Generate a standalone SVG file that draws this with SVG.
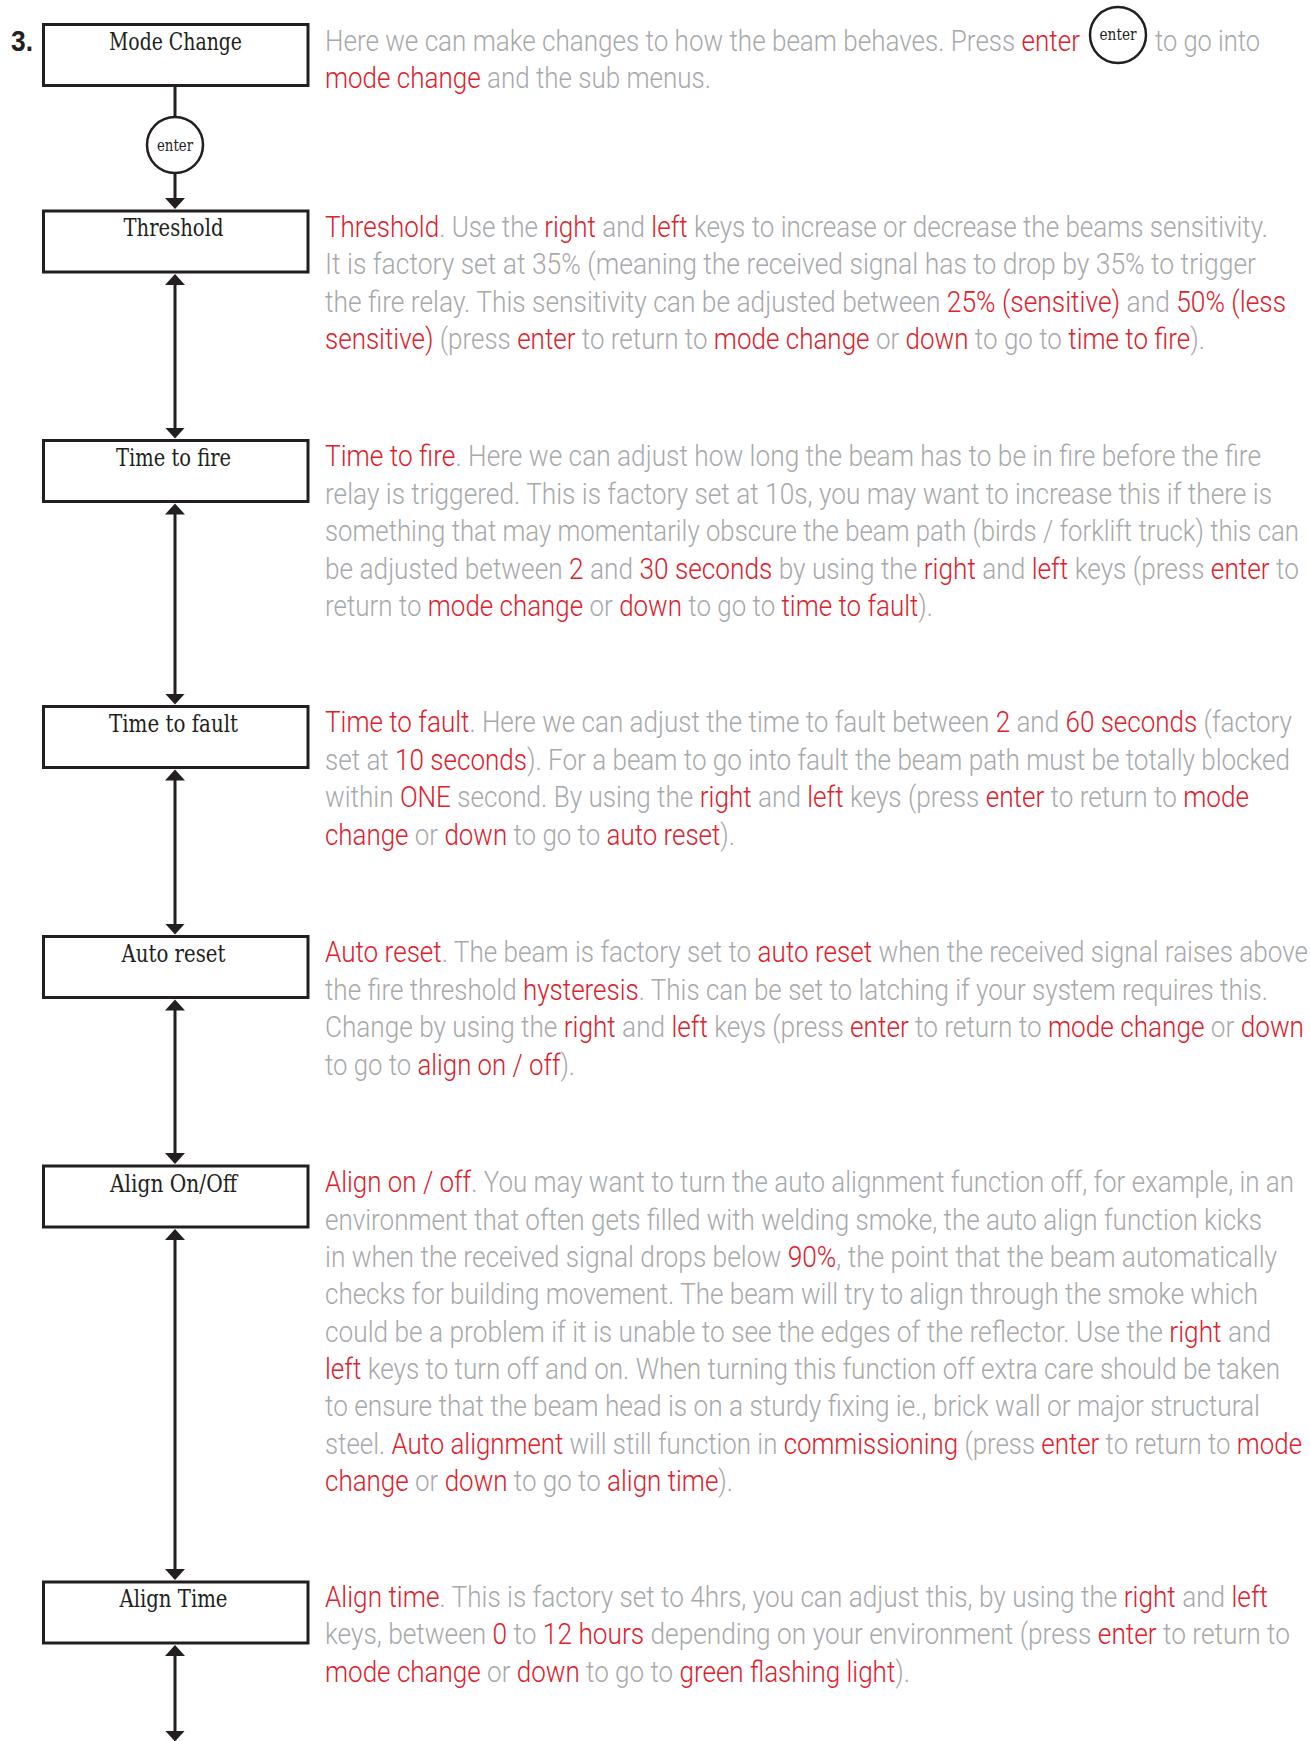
<svg xmlns="http://www.w3.org/2000/svg" width="1310" height="1741" viewBox="0 0 1310 1741">
<style>
.box{fill:#fff;stroke:#231f20;stroke-width:3}
.lbl{font-family:"DejaVu Serif","Liberation Serif",serif;font-size:25px;fill:#231f20;text-anchor:middle}
.ent{font-family:"DejaVu Serif","Liberation Serif",serif;font-size:17px;fill:#231f20;text-anchor:middle}
.circ{fill:#fff;stroke:#231f20;stroke-width:2.5}
.body{font-family:Roboto,"Liberation Sans",Arial,sans-serif;font-weight:300;font-size:30px;fill:#a7a9ac}
.r{fill:#e0202b}
.conn{stroke:#231f20;stroke-width:3;fill:none}
.num{font-family:"Liberation Sans",Arial,sans-serif;font-weight:bold;font-size:30px;fill:#231f20}
</style>
<defs>
<marker id="ah" markerUnits="userSpaceOnUse" markerWidth="12" markerHeight="22" viewBox="0 0 12 22" refX="0.5" refY="11" orient="auto-start-reverse">
<path d="M0,1 L11,11 L0,21 z" fill="#231f20"/>
</marker>
</defs>
<rect width="1310" height="1741" fill="#fff"/>

<text class="num" x="11" y="51" textLength="22" lengthAdjust="spacingAndGlyphs">3.</text>

<g id="connectors">
<line class="conn" x1="175" y1="86" x2="175" y2="117"/>
<line class="conn" x1="175" y1="173" x2="175" y2="198.5" marker-end="url(#ah)"/>
<line class="conn" x1="175" y1="284.5" x2="175" y2="428" marker-start="url(#ah)" marker-end="url(#ah)"/>
<line class="conn" x1="175" y1="514" x2="175" y2="694" marker-start="url(#ah)" marker-end="url(#ah)"/>
<line class="conn" x1="175" y1="780" x2="175" y2="924" marker-start="url(#ah)" marker-end="url(#ah)"/>
<line class="conn" x1="175" y1="1010" x2="175" y2="1153.5" marker-start="url(#ah)" marker-end="url(#ah)"/>
<line class="conn" x1="175" y1="1239.5" x2="175" y2="1569.5" marker-start="url(#ah)" marker-end="url(#ah)"/>
<line class="conn" x1="175" y1="1655.5" x2="175" y2="1731" marker-start="url(#ah)" marker-end="url(#ah)"/>
</g>

<g id="node-mode-change">
<rect class="box" x="43.5" y="24.5" width="264.5" height="61"/>
<text class="lbl" x="175.5" y="50" textLength="133" lengthAdjust="spacingAndGlyphs">Mode Change</text>
</g>
<g id="node-enter">
<circle class="circ" cx="175" cy="145" r="28"/>
<text class="ent" x="175" y="150.5" textLength="36" lengthAdjust="spacingAndGlyphs">enter</text>
</g>
<g id="node-threshold">
<rect class="box" x="43.5" y="211" width="264.5" height="61"/>
<text class="lbl" x="173.5" y="236" textLength="100" lengthAdjust="spacingAndGlyphs">Threshold</text>
</g>
<g id="node-time-to-fire">
<rect class="box" x="43.5" y="440.5" width="264.5" height="61"/>
<text class="lbl" x="173.5" y="465.5" textLength="115" lengthAdjust="spacingAndGlyphs">Time to fire</text>
</g>
<g id="node-time-to-fault">
<rect class="box" x="43.5" y="706.5" width="264.5" height="61"/>
<text class="lbl" x="173.5" y="731.5" textLength="129" lengthAdjust="spacingAndGlyphs">Time to fault</text>
</g>
<g id="node-auto-reset">
<rect class="box" x="43.5" y="936.5" width="264.5" height="61"/>
<text class="lbl" x="173.5" y="961.5" textLength="104" lengthAdjust="spacingAndGlyphs">Auto reset</text>
</g>
<g id="node-align-on-off">
<rect class="box" x="43.5" y="1166" width="264.5" height="61"/>
<text class="lbl" x="173.5" y="1191.5" textLength="127" lengthAdjust="spacingAndGlyphs">Align On/Off</text>
</g>
<g id="node-align-time">
<rect class="box" x="43.5" y="1582" width="264.5" height="61"/>
<text class="lbl" x="173.5" y="1607" textLength="108" lengthAdjust="spacingAndGlyphs">Align Time</text>
</g>

<g id="text-intro">
<text class="body" transform="matrix(0.87 0 0 1 325 0)" x="0" y="51" textLength="867.8" lengthAdjust="spacingAndGlyphs">Here we can make changes to how the beam behaves. Press <tspan class="r">enter</tspan></text>
<circle class="circ" cx="1118" cy="35" r="28"/>
<text class="ent" x="1118" y="40" textLength="37" lengthAdjust="spacingAndGlyphs">enter</text>
<text class="body" transform="matrix(0.87 0 0 1 1155 0)" x="0" y="51" textLength="120.7" lengthAdjust="spacingAndGlyphs">to go into</text>
<text class="body" transform="matrix(0.87 0 0 1 325 0)" x="0" y="88.5" textLength="443.7" lengthAdjust="spacingAndGlyphs"><tspan class="r">mode change</tspan> and the sub menus.</text>
</g>

<g id="text-threshold" transform="matrix(0.87 0 0 1 325 0)">
<text class="body" x="0" y="237" textLength="1083.9" lengthAdjust="spacingAndGlyphs"><tspan class="r">Threshold</tspan>. Use the <tspan class="r">right</tspan> and <tspan class="r">left</tspan> keys to increase or decrease the beams sensitivity.</text>
<text class="body" x="0" y="274.4" textLength="1070.1" lengthAdjust="spacingAndGlyphs">It is factory set at 35% (meaning the received signal has to drop by 35% to trigger</text>
<text class="body" x="0" y="311.8" textLength="1104.6" lengthAdjust="spacingAndGlyphs">the fire relay. This sensitivity can be adjusted between <tspan class="r">25% (sensitive)</tspan> and <tspan class="r">50% (less</tspan></text>
<text class="body" x="0" y="349.2" textLength="1011.5" lengthAdjust="spacingAndGlyphs"><tspan class="r">sensitive)</tspan> (press <tspan class="r">enter</tspan> to return to <tspan class="r">mode change</tspan> or <tspan class="r">down</tspan> to go to <tspan class="r">time to fire</tspan>).</text>
</g>

<g id="text-time-to-fire" transform="matrix(0.87 0 0 1 325 0)">
<text class="body" x="0" y="466.5" textLength="1075.9" lengthAdjust="spacingAndGlyphs"><tspan class="r">Time to fire</tspan>. Here we can adjust how long the beam has to be in fire before the fire</text>
<text class="body" x="0" y="503.9" textLength="1088.5" lengthAdjust="spacingAndGlyphs">relay is triggered. This is factory set at 10s, you may want to increase this if there is</text>
<text class="body" x="0" y="541.3" textLength="1119.5" lengthAdjust="spacingAndGlyphs">something that may momentarily obscure the beam path (birds / forklift truck) this can</text>
<text class="body" x="0" y="578.7" textLength="1119.5" lengthAdjust="spacingAndGlyphs">be adjusted between <tspan class="r">2</tspan> and <tspan class="r">30 seconds</tspan> by using the <tspan class="r">right</tspan> and <tspan class="r">left</tspan> keys (press <tspan class="r">enter</tspan> to</text>
<text class="body" x="0" y="616.1" textLength="698.9" lengthAdjust="spacingAndGlyphs">return to <tspan class="r">mode change</tspan> or <tspan class="r">down</tspan> to go to <tspan class="r">time to fault</tspan>).</text>
</g>

<g id="text-time-to-fault" transform="matrix(0.87 0 0 1 325 0)">
<text class="body" x="0" y="732.5" textLength="1111.5" lengthAdjust="spacingAndGlyphs"><tspan class="r">Time to fault</tspan>. Here we can adjust the time to fault between <tspan class="r">2</tspan> and <tspan class="r">60 seconds</tspan> (factory</text>
<text class="body" x="0" y="769.9" textLength="1109.2" lengthAdjust="spacingAndGlyphs">set at <tspan class="r">10 seconds</tspan>). For a beam to go into fault the beam path must be totally blocked</text>
<text class="body" x="0" y="807.3" textLength="1062.1" lengthAdjust="spacingAndGlyphs">within <tspan class="r">ONE</tspan> second. By using the <tspan class="r">right</tspan> and <tspan class="r">left</tspan> keys (press <tspan class="r">enter</tspan> to return to <tspan class="r">mode</tspan></text>
<text class="body" x="0" y="844.7" textLength="471.3" lengthAdjust="spacingAndGlyphs"><tspan class="r">change</tspan> or <tspan class="r">down</tspan> to go to <tspan class="r">auto reset</tspan>).</text>
</g>

<g id="text-auto-reset" transform="matrix(0.87 0 0 1 325 0)">
<text class="body" x="0" y="962.5" textLength="1129.9" lengthAdjust="spacingAndGlyphs"><tspan class="r">Auto reset</tspan>. The beam is factory set to <tspan class="r">auto reset</tspan> when the received signal raises above</text>
<text class="body" x="0" y="999.9" textLength="1083.9" lengthAdjust="spacingAndGlyphs">the fire threshold <tspan class="r">hysteresis</tspan>. This can be set to latching if your system requires this.</text>
<text class="body" x="0" y="1037.3" textLength="1125.3" lengthAdjust="spacingAndGlyphs">Change by using the <tspan class="r">right</tspan> and <tspan class="r">left</tspan> keys (press <tspan class="r">enter</tspan> to return to <tspan class="r">mode change</tspan> or <tspan class="r">down</tspan></text>
<text class="body" x="0" y="1074.7" textLength="287.4" lengthAdjust="spacingAndGlyphs">to go to <tspan class="r">align on / off</tspan>).</text>
</g>

<g id="text-align-on-off" transform="matrix(0.87 0 0 1 325 0)">
<text class="body" x="0" y="1192.5" textLength="1113.8" lengthAdjust="spacingAndGlyphs"><tspan class="r">Align on / off</tspan>. You may want to turn the auto alignment function off, for example, in an</text>
<text class="body" x="0" y="1229.8" textLength="1077" lengthAdjust="spacingAndGlyphs">environment that often gets filled with welding smoke, the auto align function kicks</text>
<text class="body" x="0" y="1267.1" textLength="1094.3" lengthAdjust="spacingAndGlyphs">in when the received signal drops below <tspan class="r">90%</tspan>, the point that the beam automatically</text>
<text class="body" x="0" y="1304.4" textLength="1072.4" lengthAdjust="spacingAndGlyphs">checks for building movement. The beam will try to align through the smoke which</text>
<text class="body" x="0" y="1341.7" textLength="1087.4" lengthAdjust="spacingAndGlyphs">could be a problem if it is unable to see the edges of the reflector. Use the <tspan class="r">right</tspan> and</text>
<text class="body" x="0" y="1379" textLength="1097.7" lengthAdjust="spacingAndGlyphs"><tspan class="r">left</tspan> keys to turn off and on. When turning this function off extra care should be taken</text>
<text class="body" x="0" y="1416.3" textLength="1074.7" lengthAdjust="spacingAndGlyphs">to ensure that the beam head is on a sturdy fixing ie., brick wall or major structural</text>
<text class="body" x="0" y="1453.6" textLength="1123" lengthAdjust="spacingAndGlyphs">steel. <tspan class="r">Auto alignment</tspan> will still function in <tspan class="r">commissioning</tspan> (press <tspan class="r">enter</tspan> to return to <tspan class="r">mode</tspan></text>
<text class="body" x="0" y="1490.9" textLength="469" lengthAdjust="spacingAndGlyphs"><tspan class="r">change</tspan> or <tspan class="r">down</tspan> to go to <tspan class="r">align time</tspan>).</text>
</g>

<g id="text-align-time" transform="matrix(0.87 0 0 1 325 0)">
<text class="body" x="0" y="1607" textLength="1083.9" lengthAdjust="spacingAndGlyphs"><tspan class="r">Align time</tspan>. This is factory set to 4hrs, you can adjust this, by using the <tspan class="r">right</tspan> and <tspan class="r">left</tspan></text>
<text class="body" x="0" y="1644.4" textLength="1109.2" lengthAdjust="spacingAndGlyphs">keys, between <tspan class="r">0</tspan> to <tspan class="r">12 hours</tspan> depending on your environment (press <tspan class="r">enter</tspan> to return to</text>
<text class="body" x="0" y="1681.8" textLength="672.4" lengthAdjust="spacingAndGlyphs"><tspan class="r">mode change</tspan> or <tspan class="r">down</tspan> to go to <tspan class="r">green flashing light</tspan>).</text>
</g>
</svg>
